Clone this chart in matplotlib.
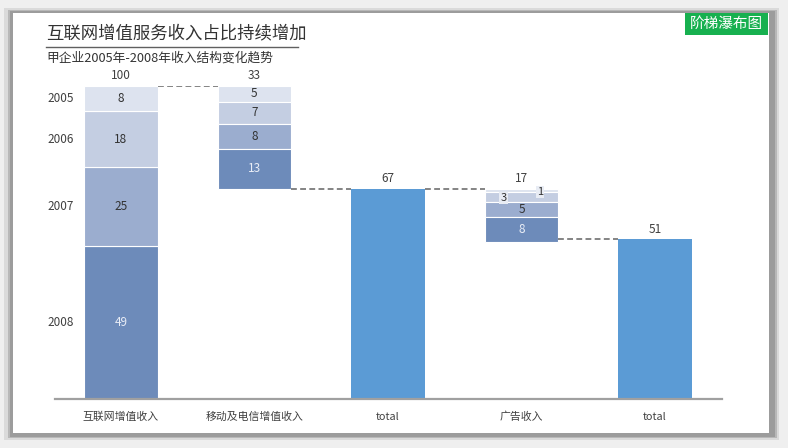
import matplotlib
matplotlib.use("Agg")
import matplotlib.pyplot as plt
from matplotlib.patches import Rectangle
from matplotlib.lines import Line2D

plt.rcParams['font.family'] = ['Noto Sans CJK SC', 'DejaVu Sans']

# ---------------- data ----------------
categories = ["互联网增值收入", "移动及电信增值收入", "total", "广告收入", "total"]
years = ["2005", "2006", "2007", "2008"]
internet = [8, 18, 25, 49]      # 2005..2008
mobile = [5, 7, 8, 13]          # 2005..2008
ads = [1, 3, 5, 8]              # 2005..2008
totals = [67, 51]
top_labels = ["100", "33", "67", "17", "51"]

title = "互联网增值服务收入占比持续增加"
subtitle = "甲企业2005年-2008年收入结构变化趋势"
badge = "阶梯瀑布图"

# ---------------- style ----------------
seg_colors = {"2005": "#dde3ef", "2006": "#c4cee2", "2007": "#9badcf", "2008": "#6d8bba"}
total_color = "#5b9bd5"
text_dark = "#404040"
W, H = 788, 448

fig = plt.figure(figsize=(W / 100, H / 100), dpi=100)
fig.patch.set_facecolor("#efefef")


def fx(px):
    return px / W


def fy(py):
    return 1 - py / H


def rect(x0, y0, x1, y1, color, z=-5):
    fig.patches.append(Rectangle((fx(x0), fy(y1)), fx(x1) - fx(x0), fy(y0) - fy(y1),
                                 transform=fig.transFigure, facecolor=color,
                                 edgecolor="none", zorder=z))


# card with shadow
rect(4, 8, 779, 440, "#dadada", z=-5)
rect(8, 10, 777, 438, "#b8b8b8", z=-4)
rect(10, 11, 775, 437, "#9c9c9c", z=-3)
rect(13, 13, 769, 433, "#ffffff", z=-2)

# badge
rect(685, 13, 768, 35, "#17b04f", z=-1)
fig.text(fx(726.5), fy(24), badge, color="white", fontsize=10.5, ha="center", va="center")

# title / subtitle
fig.text(fx(46), fy(33), title, color="#333333", fontsize=12.5, ha="left", va="center")
fig.lines.append(Line2D([fx(46), fx(298)], [fy(47.5), fy(47.5)], transform=fig.transFigure,
                        color="#606060", lw=1))
fig.text(fx(46), fy(58), subtitle, color="#333333", fontsize=9.2, ha="left", va="center")

# ---------------- axes ----------------
ax = fig.add_axes([fx(55), fy(399), fx(722) - fx(55), fy(86) - fy(399)])
ax.set_zorder(1)
ax.set_facecolor("none")
ax.set_xlim(-0.494, 4.502)
ax.set_ylim(0, 100)
for s in ["top", "right", "left"]:
    ax.spines[s].set_visible(False)
ax.spines["bottom"].set_color("#a0a0a0")
ax.spines["bottom"].set_linewidth(1.6)
ax.set_xticks([])
ax.set_yticks([])

bw = 0.55
xs = list(range(len(categories)))
num_fs = 8.5


def seg_text(x, y, val, year, dx=0.0, box=False, fs=num_fs):
    col = "#e9edf6" if year == "2008" else "#333333"
    kw = {}
    if box:
        kw["bbox"] = dict(boxstyle="square,pad=0.1", facecolor="#e8ecf4", edgecolor="none")
    ax.text(x + dx, y, str(val), ha="center", va="center", fontsize=fs, color=col, **kw)


# bar 1: internet, stacked from 0 upward (2008 bottom)
bottom = 0
for yr, v in zip(years[::-1], internet[::-1]):
    ax.bar(xs[0], v, bottom=bottom, width=bw, color=seg_colors[yr], edgecolor="white", linewidth=0.8)
    seg_text(xs[0], bottom + v / 2, v, yr)
    ax.text(-0.454, bottom + v / 2, yr, ha="center", va="center", fontsize=num_fs,
            color=text_dark, clip_on=False)
    bottom += v
top1 = bottom

# bar 2: mobile, hanging down from top1
top = top1
for yr, v in zip(years, mobile):
    ax.bar(xs[1], v, bottom=top - v, width=bw, color=seg_colors[yr], edgecolor="white", linewidth=0.8)
    seg_text(xs[1], top - v / 2, v, yr)
    top -= v
bottom2 = top

# bar 3: total
ax.bar(xs[2], totals[0], width=bw, color=total_color, edgecolor="none")

# bar 4: ads, hanging down from totals[0]
top = totals[0]
for yr, v in zip(years, ads):
    ax.bar(xs[3], v, bottom=top - v, width=bw, color=seg_colors[yr], edgecolor="white", linewidth=0.8)
    if yr == "2005":
        seg_text(xs[3], top - 0.8, v, yr, dx=0.14, box=True, fs=8)
    elif yr == "2006":
        seg_text(xs[3], top - 1.8, v, yr, dx=-0.135, box=True, fs=8)
    else:
        seg_text(xs[3], top - v / 2, v, yr)
    top -= v

# bar 5: total
ax.bar(xs[4], totals[1], width=bw, color=total_color, edgecolor="none")

# connectors
dash = dict(color="#707070", lw=1.2, linestyle=(0, (3.5, 2)))
levels = [top1, bottom2, totals[0], totals[1]]
for i, lv in enumerate(levels):
    ax.plot([xs[i] + bw / 2, xs[i + 1] - bw / 2], [lv, lv], **dash)

# top labels
tops = [top1, top1, totals[0], totals[0], totals[1]]
for x, t, lab in zip(xs, tops, top_labels):
    ax.text(x, t + 3.3, lab, ha="center", va="center", fontsize=num_fs, color=text_dark, clip_on=False)

# category labels
for x, c in zip(xs, categories):
    ax.text(x, -5.8, c, ha="center", va="center", fontsize=7.8, color=text_dark, clip_on=False)

fig.savefig("out.png", dpi=100, facecolor=fig.get_facecolor())
